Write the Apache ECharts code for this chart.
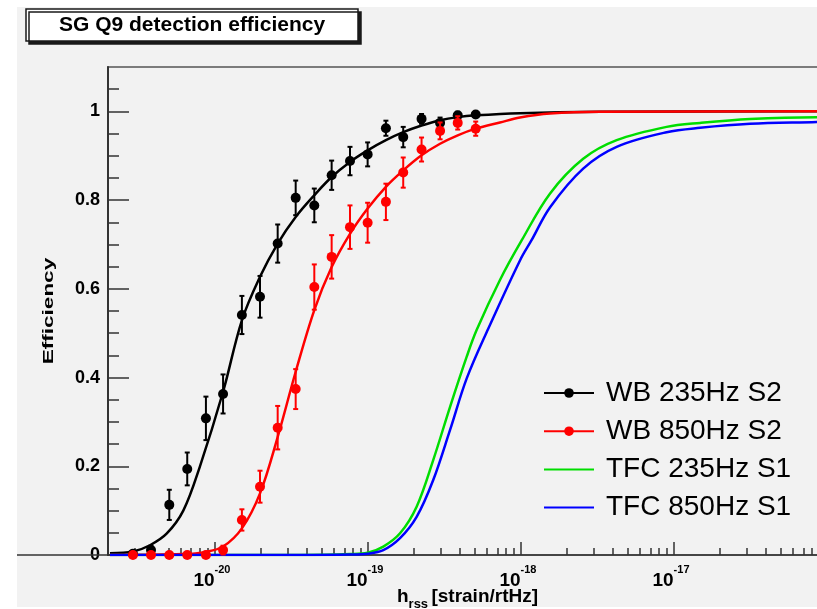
<!DOCTYPE html>
<html>
<head>
<meta charset="utf-8">
<title>SG Q9 detection efficiency</title>
<script src="https://cdn.jsdelivr.net/npm/echarts@6/dist/echarts.min.js"></script>
<style>
  html, body { margin: 0; padding: 0; background: #ffffff; }
  #chart { width: 817px; height: 609px; }
</style>
</head>
<body>
<div id="chart"></div>
<script>
// Injected signal amplitudes of the WB test points (strain/rtHz)
const hPoints = [2.91e-21, 3.82e-21, 5.03e-21, 6.59e-21, 8.73e-21, 1.13e-20, 1.50e-20, 1.97e-20, 2.57e-20, 3.37e-20,
                 4.46e-20, 5.79e-20, 7.63e-20, 9.95e-20, 1.31e-19, 1.70e-19, 2.24e-19, 2.96e-19, 3.86e-19, 5.06e-19];

// Measured efficiencies and their errors
const wb235Eff = [0.003, 0.011, 0.113, 0.194, 0.308, 0.363, 0.541, 0.582, 0.702, 0.805,
                  0.788, 0.856, 0.888, 0.903, 0.962, 0.942, 0.983, 0.974, 0.991, 0.993];
const wb235Err = [0.005, 0.010, 0.034, 0.037, 0.049, 0.044, 0.043, 0.047, 0.043, 0.039,
                  0.038, 0.033, 0.032, 0.027, 0.017, 0.023, 0.011, 0.012, 0.008, 0.006];
const wb850Eff = [0.000, 0.000, 0.000, 0.000, 0.000, 0.011, 0.079, 0.154, 0.287, 0.374,
                  0.604, 0.672, 0.739, 0.749, 0.796, 0.862, 0.914, 0.956, 0.974, 0.961];
const wb850Err = [0.003, 0.003, 0.003, 0.003, 0.003, 0.010, 0.024, 0.036, 0.049, 0.045,
                  0.051, 0.049, 0.049, 0.045, 0.041, 0.034, 0.027, 0.019, 0.015, 0.016];

// Fitted efficiency curves: amplitude samples and efficiency values
const wb235FitH = [2.06e-21, 2.92e-21, 3.76e-21, 4.83e-21, 6.21e-21, 7.98e-21, 1.13e-20, 1.50e-20, 1.97e-20, 2.57e-20,
                   3.37e-20, 4.46e-20, 5.79e-20, 7.63e-20, 9.95e-20, 1.31e-19, 1.70e-19, 2.24e-19, 2.96e-19, 3.86e-19,
                   5.06e-19, 9.85e-19, 3.28e-18, 1e-16];
const wb235FitE = [0.004, 0.008, 0.022, 0.048, 0.100, 0.200, 0.368, 0.529, 0.627, 0.702,
                   0.762, 0.811, 0.852, 0.886, 0.912, 0.935, 0.953, 0.968, 0.980, 0.987,
                   0.991, 0.996, 0.999, 1.000];
const wb850FitH = [2.06e-21, 6.21e-21, 8.73e-21, 1.13e-20, 1.50e-20, 1.97e-20, 2.57e-20, 3.37e-20, 4.46e-20, 5.79e-20,
                   7.63e-20, 9.95e-20, 1.31e-19, 1.70e-19, 2.24e-19, 2.96e-19, 3.86e-19, 5.06e-19, 7.29e-19, 9.85e-19,
                   1.55e-18, 3.28e-18, 1e-16];
const wb850FitE = [0.000, 0.002, 0.007, 0.019, 0.060, 0.139, 0.266, 0.413, 0.552, 0.649,
                   0.724, 0.781, 0.830, 0.867, 0.901, 0.927, 0.946, 0.961, 0.975, 0.986,
                   0.995, 0.999, 1.000];
const tfc235H = [2.06e-21, 3.59e-20, 7.63e-20, 9.95e-20, 1.26e-19, 1.62e-19, 2.08e-19, 2.67e-19, 3.44e-19, 4.42e-19,
                 5.13e-19, 7.29e-19, 1.01e-18, 1.55e-18, 2.55e-18, 4.22e-18, 8.95e-18, 1.48e-17, 3.14e-17,
                 8.57e-17, 1e-16];
const tfc235E = [0.000, 0.000, 0.002, 0.005, 0.019, 0.049, 0.109, 0.214, 0.334, 0.447,
                 0.507, 0.620, 0.709, 0.815, 0.893, 0.935, 0.965, 0.974, 0.983,
                 0.987, 0.987];
const tfc850H = [2.06e-21, 3.59e-20, 7.63e-20, 9.95e-20, 1.26e-19, 1.62e-19, 2.08e-19, 2.67e-19, 3.44e-19, 4.42e-19,
                 6.11e-19, 9.85e-19, 1.17e-18, 1.55e-18, 2.55e-18, 4.22e-18, 8.95e-18, 1.48e-17, 3.14e-17,
                 8.57e-17, 1e-16];
const tfc850E = [0.000, 0.000, 0.001, 0.003, 0.011, 0.038, 0.086, 0.169, 0.282, 0.398,
                 0.510, 0.664, 0.709, 0.784, 0.871, 0.920, 0.953, 0.963, 0.972,
                 0.976, 0.977];

// Axis tick positions
const yMajorTicks = [0, 0.2, 0.4, 0.6, 0.8, 1];
const yMinorTicks = [0.05, 0.1, 0.15, 0.25, 0.3, 0.35, 0.45, 0.5, 0.55, 0.65, 0.7, 0.75, 0.85, 0.9, 0.95, 1.05];
const xDecades = [-20, -19, -18, -17, -16];
const xLabelDecades = [-20, -19, -18, -17];

const seriesNames = ['WB 235Hz S2', 'WB 850Hz S2', 'TFC 235Hz S1', 'TFC 850Hz S1'];
const seriesColors = ['#000000', '#ff0000', '#00dd00', '#0000ff'];

// The x axis works in log10(h)
const lg = Math.log10;
const toCurve = (hs, es) => hs.map((h, i) => [lg(h), es[i]]);
const toPoints = (hs, es, errs) => hs.map((h, i) => [lg(h), es[i], errs[i]]);

const xMinor = [];
for (let d = -21; d <= -17; d++) {
  for (let k = 2; k <= 9; k++) {
    const v = d + lg(k);
    if (v > lg(2e-21) + 1e-6 && v < -16) xMinor.push(v);
  }
}
const xMin = lg(2e-21);
const xMax = -16;

function errorBarRenderer(color, radius) {
  return function (params, api) {
    const x = api.value(0), y = api.value(1), e = api.value(2);
    const c = api.coord([x, y]);
    const lo = api.coord([x, y - e]);
    const hi = api.coord([x, y + e]);
    const cap = 2.5;
    const lineStyle = { stroke: color, lineWidth: 2 };
    return {
      type: 'group',
      children: [
        { type: 'line', shape: { x1: c[0], y1: lo[1], x2: c[0], y2: hi[1] }, style: lineStyle },
        { type: 'line', shape: { x1: c[0] - cap, y1: lo[1], x2: c[0] + cap, y2: lo[1] }, style: lineStyle },
        { type: 'line', shape: { x1: c[0] - cap, y1: hi[1], x2: c[0] + cap, y2: hi[1] }, style: lineStyle },
        { type: 'circle', shape: { cx: c[0], cy: c[1], r: radius }, style: { fill: color } }
      ]
    };
  };
}

const axisColor = '#333333';
const fontFam = '"Liberation Sans", Arial, Helvetica, sans-serif';

const chart = echarts.init(document.getElementById('chart'), null, { renderer: 'canvas' });

const option = {
  backgroundColor: '#ffffff',
  animation: false,
  title: {
    text: 'SG Q9 detection efficiency',
    left: 26,
    top: 9,
    padding: [4, 33, 4, 33],
    backgroundColor: '#ffffff',
    borderColor: '#1a1a1a',
    borderWidth: 1.5,
    shadowColor: '#1a1a1a',
    shadowOffsetX: 3,
    shadowOffsetY: 3,
    shadowBlur: 0,
    textStyle: { fontFamily: fontFam, fontSize: 21, fontWeight: 'bold', color: '#000', lineHeight: 24 }
  },
  graphic: [
    { type: 'rect', z: -100, silent: true, shape: { x: 17, y: 7, width: 800, height: 600 }, style: { fill: '#f2f2f2' } },
    { type: 'line', z: 100, silent: true, shape: { x1: 17, y1: 555, x2: 108, y2: 555 }, style: { stroke: axisColor, lineWidth: 1.5 } },
    {
      // vertical axis title, drawn stretched along its length
      type: 'text', z: 100, silent: true,
      x: 48.5, y: 311, rotation: Math.PI / 2, scaleX: 1.5,
      style: {
        text: 'Efficiency', fontFamily: fontFam, fontSize: 15, fontWeight: 'bold', fill: '#000',
        align: 'center', verticalAlign: 'middle'
      }
    }
  ],
  grid: {
    left: 108, top: 67, right: -10, bottom: 54,
    outerBoundsMode: 'none', containLabel: false,
    show: true, borderColor: '#555555', borderWidth: 1.5, backgroundColor: 'transparent'
  },
  legend: {
    orient: 'vertical',
    left: 543,
    top: 378,
    padding: 0,
    itemWidth: 50,
    itemHeight: 12,
    itemGap: 8.2,
    data: [
      { name: seriesNames[0] },
      { name: seriesNames[1] },
      { name: seriesNames[2], itemStyle: { opacity: 0 } },
      { name: seriesNames[3], itemStyle: { opacity: 0 } }
    ],
    textStyle: { fontFamily: fontFam, fontSize: 28, color: '#000', lineHeight: 30, padding: [0, 0, 0, 7] }
  },
  xAxis: [
    {
      type: 'value', min: xMin, max: xMax,
      axisLine: { show: true, onZero: false, lineStyle: { color: axisColor, width: 1.5 } },
      axisTick: { show: true, inside: true, length: 13, customValues: xDecades, lineStyle: { color: axisColor, width: 1.5 } },
      splitLine: { show: false },
      axisLabel: {
        customValues: xLabelDecades,
        margin: 5,
        padding: [0, 6, 0, 0],
        formatter: v => '{b|10}{s|' + Math.round(v) + '}',
        rich: {
          b: { fontFamily: fontFam, fontSize: 19, fontWeight: 'bold', color: '#000', lineHeight: 30, verticalAlign: 'bottom' },
          s: { fontFamily: fontFam, fontSize: 11, fontWeight: 'bold', color: '#000', lineHeight: 14, verticalAlign: 'top', padding: [4, 0, 0, 0] }
        }
      },
      name: '{h|h}{r|rss} {t|[strain/rtHz]}',
      nameLocation: 'middle',
      nameGap: 32,
      nameMoveOverlap: false,
      nameTextStyle: {
        rich: {
          h: { fontFamily: fontFam, fontSize: 19, fontWeight: 'bold', color: '#000', verticalAlign: 'top', lineHeight: 24 },
          r: { fontFamily: fontFam, fontSize: 13, fontWeight: 'bold', color: '#000', verticalAlign: 'bottom', lineHeight: 24 },
          t: { fontFamily: fontFam, fontSize: 19, fontWeight: 'bold', color: '#000', verticalAlign: 'top', lineHeight: 24 }
        }
      }
    },
    {
      type: 'value', min: xMin, max: xMax, position: 'bottom',
      axisLine: { show: false },
      axisTick: { show: true, inside: true, length: 7, customValues: xMinor, lineStyle: { color: axisColor, width: 1.5 } },
      axisLabel: { show: false },
      splitLine: { show: false }
    }
  ],
  yAxis: [
    {
      type: 'value', min: 0, max: 1.1,
      axisLine: { show: true, onZero: false, lineStyle: { color: axisColor, width: 2 } },
      axisTick: { show: true, inside: true, length: 21, customValues: yMajorTicks, lineStyle: { color: axisColor, width: 1.5 } },
      splitLine: { show: false },
      axisLabel: {
        customValues: yMajorTicks,
        margin: 8,
        fontFamily: fontFam, fontSize: 18, fontWeight: 'bold', color: '#000',
        formatter: v => String(Math.round(v * 10) / 10)
      }
    },
    {
      type: 'value', min: 0, max: 1.1, position: 'left',
      axisLine: { show: false },
      axisTick: { show: true, inside: true, length: 11, customValues: yMinorTicks, lineStyle: { color: axisColor, width: 1.5 } },
      axisLabel: { show: false },
      splitLine: { show: false }
    }
  ],
  series: [
    {
      name: seriesNames[0], type: 'line', xAxisIndex: 0, yAxisIndex: 0,
      data: toCurve(wb235FitH, wb235FitE),
      smooth: 0.35, symbol: 'circle', showSymbol: false, color: seriesColors[0],
      lineStyle: { width: 2.5, color: seriesColors[0] }, z: 3
    },
    {
      name: seriesNames[1], type: 'line', xAxisIndex: 0, yAxisIndex: 0,
      data: toCurve(wb850FitH, wb850FitE),
      smooth: 0.35, symbol: 'circle', showSymbol: false, color: seriesColors[1],
      lineStyle: { width: 2.5, color: seriesColors[1] }, z: 4
    },
    {
      name: seriesNames[2], type: 'line', xAxisIndex: 0, yAxisIndex: 0,
      data: toCurve(tfc235H, tfc235E),
      smooth: 0.35, symbol: 'none', color: seriesColors[2],
      lineStyle: { width: 2.5, color: seriesColors[2] }, z: 3
    },
    {
      name: seriesNames[3], type: 'line', xAxisIndex: 0, yAxisIndex: 0,
      data: toCurve(tfc850H, tfc850E),
      smooth: 0.35, symbol: 'none', color: seriesColors[3],
      lineStyle: { width: 2.5, color: seriesColors[3] }, z: 5
    },
    {
      name: 'WB 235Hz S2 points', type: 'custom', xAxisIndex: 0, yAxisIndex: 0,
      data: toPoints(hPoints, wb235Eff, wb235Err),
      renderItem: errorBarRenderer(seriesColors[0], 5), clip: false, z: 6
    },
    {
      name: 'WB 850Hz S2 points', type: 'custom', xAxisIndex: 0, yAxisIndex: 0,
      data: toPoints(hPoints, wb850Eff, wb850Err),
      renderItem: errorBarRenderer(seriesColors[1], 5), clip: false, z: 7
    }
  ]
};

chart.setOption(option);
</script>
</body>
</html>
